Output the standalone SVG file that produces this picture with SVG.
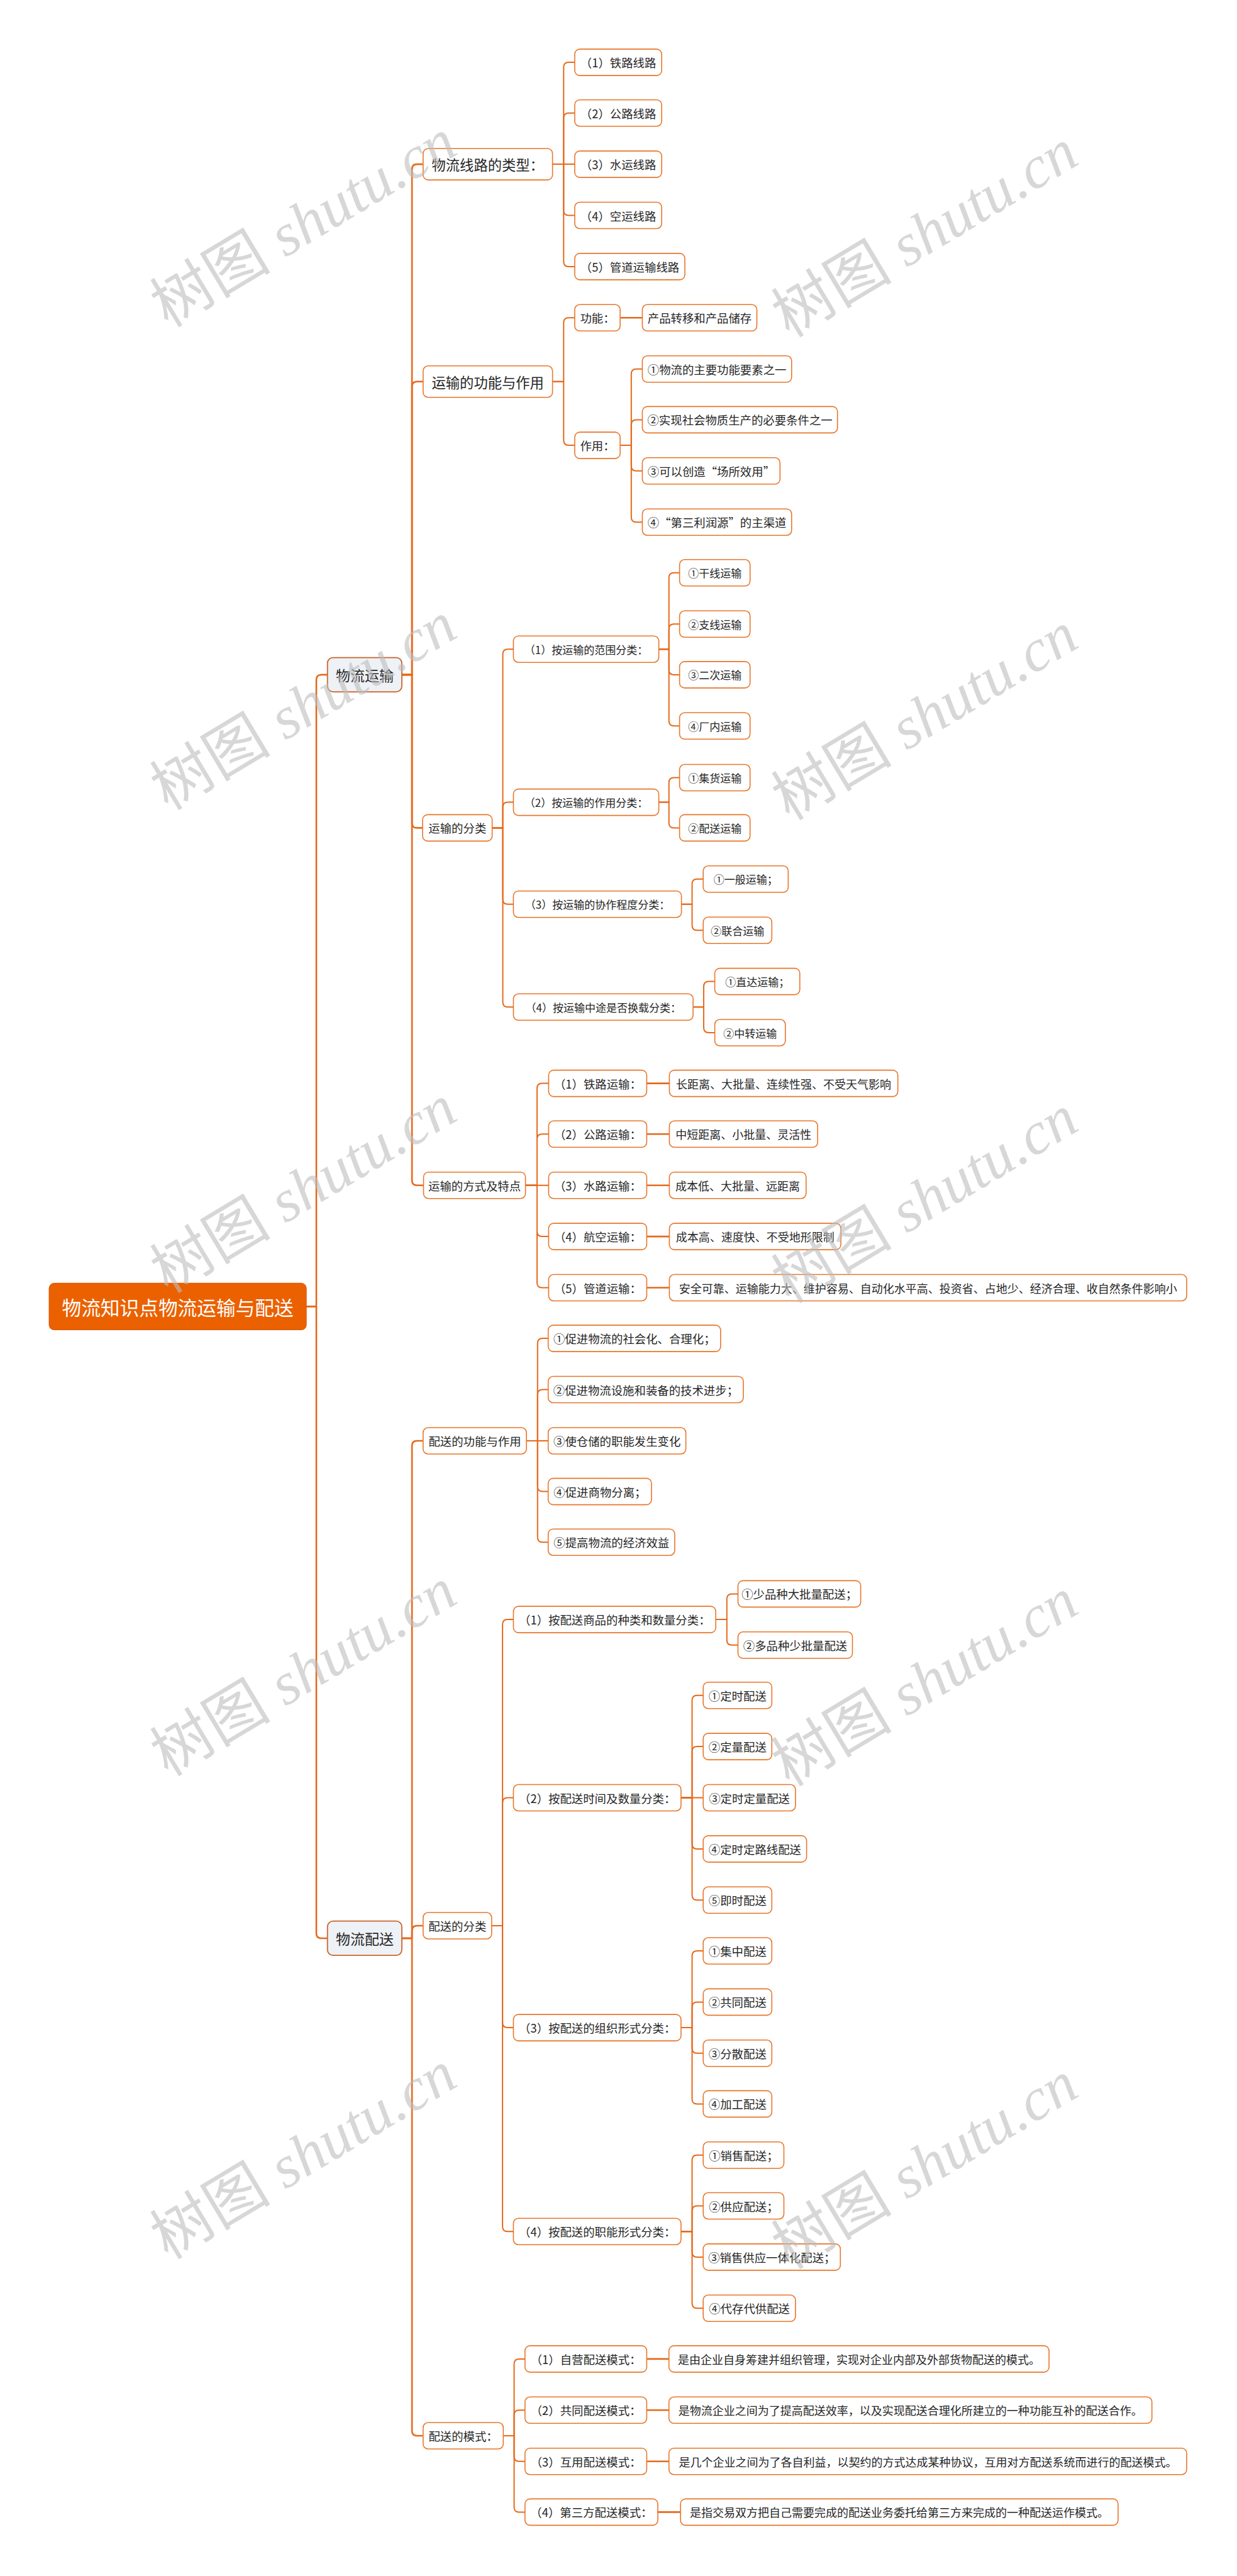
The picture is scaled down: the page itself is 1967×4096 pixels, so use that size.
<svg xmlns="http://www.w3.org/2000/svg" width="1967" height="4096" viewBox="0 0 1967 4096">
<style>
.bg{fill:#ffffff}
.n rect{fill:#ffffff;stroke:#E8762A;stroke-width:1.6}
.l1 rect{fill:#EEF1F6;stroke:#C8652B;stroke-width:1.8}
.rt rect{fill:#EB6100;stroke:#E05A00;stroke-width:1.5}
text.t{font-family:"Noto Sans CJK SC","Liberation Sans",sans-serif;fill:#262626;text-anchor:middle;dominant-baseline:central}
.rt text.t{fill:#ffffff;font-size:30.7px}
.l1 text.t{font-size:23px}
.s22{font-size:22.3px}
.s18{font-size:18.4px}
.s17{font-size:17px}
.s18d{font-size:18px}
#connectors path{fill:none;stroke:#E46A1C;stroke-width:2;stroke-linecap:round;stroke-linejoin:round}
#connectors .w{stroke-width:2.6}
#connectors .d{stroke-width:2.6}
.wm{fill:#bdbdbd;fill-opacity:0.6;font-family:"Liberation Serif","Noto Sans CJK SC",serif;font-size:95px}
</style>
<rect class="bg" x="0" y="0" width="1967" height="4096"/>

<g id="connectors">
<path class="w" d="M486.9 2077.4 H503 V1080.9 Q503 1072.9 511 1072.9 H520.7"/>
<path class="w" d="M486.9 2077.4 H503 V3074 Q503 3082 511 3082 H520.7"/>

<path class="w" d="M639 1072.9 H655.1 V269.1 Q655.1 261.1 663.1 261.1 H672.8"/>
<path class="w" d="M639 1072.9 H655.1 V614.7 Q655.1 606.7 663.1 606.7 H672.8"/>
<path class="w" d="M639 1072.9 H655.1 V1308.4 Q655.1 1316.4 663.1 1316.4 H672"/>
<path class="w" d="M639 1072.9 H655.1 V1876.7 Q655.1 1884.7 663.1 1884.7 H673.5"/>

<path class="w" d="M639 3082 H655.1 V2299 Q655.1 2291 663.1 2291 H672.8"/>
<path class="w" d="M639 3082 H655.1 V3070 Q655.1 3062 663.1 3062 H672.8"/>
<path class="w" d="M639 3082 H655.1 V3865 Q655.1 3873 663.1 3873 H672.8"/>

<path d="M878.6 261.1 H896.3 V107.1 Q896.3 99.1 904.3 99.1 H913.9"/>
<path d="M878.6 261.1 H896.3 V187.7 Q896.3 179.7 904.3 179.7 H913.9"/>
<path d="M878.6 261.1 H913.9"/>
<path d="M878.6 261.1 H896.3 V334.5 Q896.3 342.5 904.3 342.5 H913.9"/>
<path d="M878.6 261.1 H896.3 V415.9 Q896.3 423.9 904.3 423.9 H913.9"/>

<path d="M878.6 606.7 H896.3 V513.3 Q896.3 505.3 904.3 505.3 H913.9"/>
<path d="M878.6 606.7 H896.3 V700.1 Q896.3 708.1 904.3 708.1 H913.9"/>
<path class="d" d="M986.1 505.3 H1021.4"/>
<path d="M986.1 708.1 H1003.8 V594.8 Q1003.8 586.8 1011.8 586.8 H1021.4"/>
<path d="M986.1 708.1 H1003.8 V675.4 Q1003.8 667.4 1011.8 667.4 H1021.4"/>
<path d="M986.1 708.1 H1003.8 V740.8 Q1003.8 748.8 1011.8 748.8 H1021.4"/>
<path d="M986.1 708.1 H1003.8 V822.2 Q1003.8 830.2 1011.8 830.2 H1021.4"/>

<path d="M782.6 1316.4 H799.5 V1040.2 Q799.5 1032.2 807.5 1032.2 H816.4"/>
<path d="M782.6 1316.4 H799.5 V1283.6 Q799.5 1275.6 807.5 1275.6 H816.4"/>
<path d="M782.6 1316.4 H799.5 V1429.7 Q799.5 1437.7 807.5 1437.7 H816.4"/>
<path d="M782.6 1316.4 H799.5 V1593.3 Q799.5 1601.3 807.5 1601.3 H816.4"/>
<path d="M1047.6 1032.2 H1063.7 V918.8 Q1063.7 910.8 1071.7 910.8 H1080.6"/>
<path d="M1047.6 1032.2 H1063.7 V1000.3 Q1063.7 992.3 1071.7 992.3 H1080.6"/>
<path d="M1047.6 1032.2 H1063.7 V1064.9 Q1063.7 1072.9 1071.7 1072.9 H1080.6"/>
<path d="M1047.6 1032.2 H1063.7 V1146.3 Q1063.7 1154.3 1071.7 1154.3 H1080.6"/>
<path d="M1047.6 1275.6 H1063.7 V1244.5 Q1063.7 1236.5 1071.7 1236.5 H1080.6"/>
<path d="M1047.6 1275.6 H1063.7 V1308.4 Q1063.7 1316.4 1071.7 1316.4 H1080.6"/>
<path d="M1083.6 1437.7 H1100.5 V1405.8 Q1100.5 1397.8 1108.5 1397.8 H1118.2"/>
<path d="M1083.6 1437.7 H1100.5 V1471.2 Q1100.5 1479.2 1108.5 1479.2 H1118.2"/>
<path d="M1102.1 1601.3 H1119 V1568.6 Q1119 1560.6 1127 1560.6 H1136.6"/>
<path d="M1102.1 1601.3 H1119 V1634 Q1119 1642 1127 1642 H1136.6"/>

<path d="M835.6 1884.7 H854 V1730.6 Q854 1722.6 862 1722.6 H872.4"/>
<path d="M835.6 1884.7 H854 V1811.3 Q854 1803.3 862 1803.3 H872.4"/>
<path d="M835.6 1884.7 H872.4"/>
<path d="M835.6 1884.7 H854 V1958.1 Q854 1966.1 862 1966.1 H872.4"/>
<path d="M835.6 1884.7 H854 V2039.5 Q854 2047.5 862 2047.5 H872.4"/>
<path class="d" d="M1028.4 1722.6 H1064.4"/>
<path class="d" d="M1028.4 1803.3 H1064.4"/>
<path class="d" d="M1028.4 1884.7 H1064.4"/>
<path class="d" d="M1028.4 1966.1 H1064.4"/>
<path class="d" d="M1028.4 2047.5 H1064.4"/>

<path d="M837.1 2291 H854.8 V2136.1 Q854.8 2128.1 862.8 2128.1 H871.7"/>
<path d="M837.1 2291 H854.8 V2217.5 Q854.8 2209.5 862.8 2209.5 H871.7"/>
<path d="M837.1 2291 H871.7"/>
<path d="M837.1 2291 H854.8 V2363.6 Q854.8 2371.6 862.8 2371.6 H871.7"/>
<path d="M837.1 2291 H854.8 V2444.2 Q854.8 2452.2 862.8 2452.2 H871.7"/>

<path d="M781.8 3062 H799.1 V2583.1 Q799.1 2575.1 807.1 2575.1 H816.4"/>
<path d="M781.8 3062 H799.1 V2866.5 Q799.1 2858.5 807.1 2858.5 H816.4"/>
<path d="M781.8 3062 H799.1 V3216.1 Q799.1 3224.1 807.1 3224.1 H816.4"/>
<path d="M781.8 3062 H799.1 V3540.2 Q799.1 3548.2 807.1 3548.2 H816.4"/>
<path d="M1138.2 2575.1 H1155.8 V2542.4 Q1155.8 2534.4 1163.8 2534.4 H1173.5"/>
<path d="M1138.2 2575.1 H1155.8 V2607.8 Q1155.8 2615.8 1163.8 2615.8 H1173.5"/>
<path d="M1082.9 2858.5 H1100.5 V2703.7 Q1100.5 2695.7 1108.5 2695.7 H1118.2"/>
<path d="M1082.9 2858.5 H1100.5 V2785.1 Q1100.5 2777.1 1108.5 2777.1 H1118.2"/>
<path d="M1082.9 2858.5 H1118.2"/>
<path d="M1082.9 2858.5 H1100.5 V2931.9 Q1100.5 2939.9 1108.5 2939.9 H1118.2"/>
<path d="M1082.9 2858.5 H1100.5 V3013.3 Q1100.5 3021.3 1108.5 3021.3 H1118.2"/>
<path d="M1082.9 3224.1 H1100.5 V3110 Q1100.5 3102 1108.5 3102 H1118.2"/>
<path d="M1082.9 3224.1 H1100.5 V3191.4 Q1100.5 3183.4 1108.5 3183.4 H1118.2"/>
<path d="M1082.9 3224.1 H1100.5 V3256.8 Q1100.5 3264.8 1108.5 3264.8 H1118.2"/>
<path d="M1082.9 3224.1 H1100.5 V3337.4 Q1100.5 3345.4 1108.5 3345.4 H1118.2"/>
<path d="M1082.9 3548.2 H1100.5 V3434.8 Q1100.5 3426.8 1108.5 3426.8 H1118.2"/>
<path d="M1082.9 3548.2 H1100.5 V3515.5 Q1100.5 3507.5 1108.5 3507.5 H1118.2"/>
<path d="M1082.9 3548.2 H1100.5 V3580.9 Q1100.5 3588.9 1108.5 3588.9 H1118.2"/>
<path d="M1082.9 3548.2 H1100.5 V3662.3 Q1100.5 3670.3 1108.5 3670.3 H1118.2"/>

<path d="M800.3 3873 H817.5 V3758.9 Q817.5 3750.9 825.5 3750.9 H834.8"/>
<path d="M800.3 3873 H817.5 V3840.3 Q817.5 3832.3 825.5 3832.3 H834.8"/>
<path d="M800.3 3873 H817.5 V3905.7 Q817.5 3913.7 825.5 3913.7 H834.8"/>
<path d="M800.3 3873 H817.5 V3986.4 Q817.5 3994.4 825.5 3994.4 H834.8"/>
<path class="d" d="M1028.4 3750.9 H1063.7"/>
<path class="d" d="M1028.4 3832.3 H1063.7"/>
<path class="d" d="M1028.4 3913.7 H1063.7"/>
<path class="d" d="M1046 3994.4 H1082.1"/>
</g>

<g id="root" class="rt"><rect x="78.3" y="2040.6" width="408.6" height="73.7" rx="8"/><text class="t" x="282.6" y="2077.4">物流知识点物流运输与配送</text></g>

<g id="n-wlys" class="l1"><rect x="520.7" y="1045.6" width="118.3" height="54.5" rx="9"/><text class="t" x="579.9" y="1072.9">物流运输</text></g>
<g id="n-wlps" class="l1"><rect x="520.7" y="3054.7" width="118.3" height="54.5" rx="9"/><text class="t" x="579.9" y="3082">物流配送</text></g>

<g id="n-a1" class="n"><rect x="672.8" y="236.2" width="205.8" height="49.9" rx="8"/><text class="t s22" x="775.7" y="261.1">物流线路的类型：</text></g>
<g id="n-a1-1" class="n"><rect x="913.9" y="78.1" width="138.3" height="42" rx="8"/><text class="t s18" x="983.1" y="99.1">（1）铁路线路</text></g>
<g id="n-a1-2" class="n"><rect x="913.9" y="158.7" width="138.3" height="42" rx="8"/><text class="t s18" x="983.1" y="179.7">（2）公路线路</text></g>
<g id="n-a1-3" class="n"><rect x="913.9" y="240.1" width="138.3" height="42" rx="8"/><text class="t s18" x="983.1" y="261.1">（3）水运线路</text></g>
<g id="n-a1-4" class="n"><rect x="913.9" y="321.5" width="138.3" height="42" rx="8"/><text class="t s18" x="983.1" y="342.5">（4）空运线路</text></g>
<g id="n-a1-5" class="n"><rect x="913.9" y="402.9" width="175.1" height="42" rx="8"/><text class="t s18" x="1001.5" y="423.9">（5）管道运输线路</text></g>

<g id="n-a2" class="n"><rect x="672.8" y="581.8" width="205.8" height="49.9" rx="8"/><text class="t s22" x="775.7" y="606.7">运输的功能与作用</text></g>
<g id="n-a2-gn" class="n"><rect x="913.9" y="484.3" width="72.2" height="42" rx="8"/><text class="t s18" x="950" y="505.3">功能：</text></g>
<g id="n-a2-gn-1" class="n"><rect x="1021.4" y="484.3" width="182.1" height="42" rx="8"/><text class="t s18" x="1112.5" y="505.3">产品转移和产品储存</text></g>
<g id="n-a2-zy" class="n"><rect x="913.9" y="687.1" width="72.2" height="42" rx="8"/><text class="t s18" x="950" y="708.1">作用：</text></g>
<g id="n-a2-zy-1" class="n"><rect x="1021.4" y="565.8" width="237.4" height="42" rx="8"/><text class="t s18" x="1140.1" y="586.8">①物流的主要功能要素之一</text></g>
<g id="n-a2-zy-2" class="n"><rect x="1021.4" y="646.4" width="310.3" height="42" rx="8"/><text class="t s18" x="1176.6" y="667.4">②实现社会物质生产的必要条件之一</text></g>
<g id="n-a2-zy-3" class="n"><rect x="1021.4" y="727.8" width="218.9" height="42" rx="8"/><text class="t s18" x="1130.9" y="748.8">③可以创造“场所效用”</text></g>
<g id="n-a2-zy-4" class="n"><rect x="1021.4" y="809.2" width="237.4" height="42" rx="8"/><text class="t s18" x="1140.1" y="830.2">④“第三利润源”的主渠道</text></g>

<g id="n-a3" class="n"><rect x="672" y="1295.4" width="110.6" height="42" rx="8"/><text class="t s18" x="727.3" y="1316.4">运输的分类</text></g>
<g id="n-a3-1" class="n"><rect x="816.4" y="1011.2" width="231.2" height="42" rx="8"/><text class="t s17" x="932" y="1032.2">（1）按运输的范围分类：</text></g>
<g id="n-a3-1-1" class="n"><rect x="1080.6" y="889.8" width="112.1" height="42" rx="8"/><text class="t s17" x="1136.7" y="910.8">①干线运输</text></g>
<g id="n-a3-1-2" class="n"><rect x="1080.6" y="971.3" width="112.1" height="42" rx="8"/><text class="t s17" x="1136.7" y="992.3">②支线运输</text></g>
<g id="n-a3-1-3" class="n"><rect x="1080.6" y="1051.9" width="112.1" height="42" rx="8"/><text class="t s17" x="1136.7" y="1072.9">③二次运输</text></g>
<g id="n-a3-1-4" class="n"><rect x="1080.6" y="1133.3" width="112.1" height="42" rx="8"/><text class="t s17" x="1136.7" y="1154.3">④厂内运输</text></g>
<g id="n-a3-2" class="n"><rect x="816.4" y="1254.6" width="231.2" height="42" rx="8"/><text class="t s17" x="932" y="1275.6">（2）按运输的作用分类：</text></g>
<g id="n-a3-2-1" class="n"><rect x="1080.6" y="1215.5" width="112.1" height="42" rx="8"/><text class="t s17" x="1136.7" y="1236.5">①集货运输</text></g>
<g id="n-a3-2-2" class="n"><rect x="1080.6" y="1295.4" width="112.1" height="42" rx="8"/><text class="t s17" x="1136.7" y="1316.4">②配送运输</text></g>
<g id="n-a3-3" class="n"><rect x="816.4" y="1416.7" width="267.2" height="42" rx="8"/><text class="t s17" x="950" y="1437.7">（3）按运输的协作程度分类：</text></g>
<g id="n-a3-3-1" class="n"><rect x="1118.2" y="1376.8" width="135.2" height="42" rx="8"/><text class="t s17" x="1185.8" y="1397.8">①一般运输；</text></g>
<g id="n-a3-3-2" class="n"><rect x="1118.2" y="1458.2" width="109.1" height="42" rx="8"/><text class="t s17" x="1172.8" y="1479.2">②联合运输</text></g>
<g id="n-a3-4" class="n"><rect x="816.4" y="1580.3" width="285.7" height="42" rx="8"/><text class="t s17" x="959.3" y="1601.3">（4）按运输中途是否换载分类：</text></g>
<g id="n-a3-4-1" class="n"><rect x="1136.6" y="1539.6" width="135.2" height="42" rx="8"/><text class="t s17" x="1204.2" y="1560.6">①直达运输；</text></g>
<g id="n-a3-4-2" class="n"><rect x="1136.6" y="1621" width="112.2" height="42" rx="8"/><text class="t s17" x="1192.7" y="1642">②中转运输</text></g>

<g id="n-a4" class="n"><rect x="673.5" y="1863.7" width="162.1" height="42" rx="8"/><text class="t s18" x="754.6" y="1884.7">运输的方式及特点</text></g>
<g id="n-a4-1" class="n"><rect x="872.4" y="1701.6" width="156" height="42" rx="8"/><text class="t s18" x="950.4" y="1722.6">（1）铁路运输：</text></g>
<g id="n-a4-1d" class="n"><rect x="1064.4" y="1701.6" width="363.3" height="42" rx="8"/><text class="t s18d" x="1246.1" y="1722.6">长距离、大批量、连续性强、不受天气影响</text></g>
<g id="n-a4-2" class="n"><rect x="872.4" y="1782.3" width="156" height="42" rx="8"/><text class="t s18" x="950.4" y="1803.3">（2）公路运输：</text></g>
<g id="n-a4-2d" class="n"><rect x="1064.4" y="1782.3" width="235.8" height="42" rx="8"/><text class="t s18d" x="1182.3" y="1803.3">中短距离、小批量、灵活性</text></g>
<g id="n-a4-3" class="n"><rect x="872.4" y="1863.7" width="156" height="42" rx="8"/><text class="t s18" x="950.4" y="1884.7">（3）水路运输：</text></g>
<g id="n-a4-3d" class="n"><rect x="1064.4" y="1863.7" width="217.4" height="42" rx="8"/><text class="t s18d" x="1173.1" y="1884.7">成本低、大批量、远距离</text></g>
<g id="n-a4-4" class="n"><rect x="872.4" y="1945.1" width="156" height="42" rx="8"/><text class="t s18" x="950.4" y="1966.1">（4）航空运输：</text></g>
<g id="n-a4-4d" class="n"><rect x="1064.4" y="1945.1" width="272.7" height="42" rx="8"/><text class="t s18d" x="1200.8" y="1966.1">成本高、速度快、不受地形限制</text></g>
<g id="n-a4-5" class="n"><rect x="872.4" y="2026.5" width="156" height="42" rx="8"/><text class="t s18" x="950.4" y="2047.5">（5）管道运输：</text></g>
<g id="n-a4-5d" class="n"><rect x="1064.4" y="2026.5" width="822.6" height="42" rx="8"/><text class="t s18d" x="1475.7" y="2047.5">安全可靠、运输能力大、维护容易、自动化水平高、投资省、占地少、经济合理、收自然条件影响小</text></g>

<g id="n-b1" class="n"><rect x="672.8" y="2270" width="164.3" height="42" rx="8"/><text class="t s18" x="755" y="2291">配送的功能与作用</text></g>
<g id="n-b1-1" class="n"><rect x="871.7" y="2107.1" width="274.2" height="42" rx="8"/><text class="t s18" x="1008.8" y="2128.1">①促进物流的社会化、合理化；</text></g>
<g id="n-b1-2" class="n"><rect x="871.7" y="2188.5" width="310.3" height="42" rx="8"/><text class="t s18" x="1026.9" y="2209.5">②促进物流设施和装备的技术进步；</text></g>
<g id="n-b1-3" class="n"><rect x="871.7" y="2270" width="218.9" height="42" rx="8"/><text class="t s18" x="981.2" y="2291">③使仓储的职能发生变化</text></g>
<g id="n-b1-4" class="n"><rect x="871.7" y="2350.6" width="164.3" height="42" rx="8"/><text class="t s18" x="953.9" y="2371.6">④促进商物分离；</text></g>
<g id="n-b1-5" class="n"><rect x="871.7" y="2431.2" width="201.2" height="42" rx="8"/><text class="t s18" x="972.3" y="2452.2">⑤提高物流的经济效益</text></g>

<g id="n-b2" class="n"><rect x="672.8" y="3041" width="109" height="42" rx="8"/><text class="t s18" x="727.3" y="3062">配送的分类</text></g>
<g id="n-b2-1" class="n"><rect x="816.4" y="2554.1" width="321.8" height="42" rx="8"/><text class="t s18" x="977.3" y="2575.1">（1）按配送商品的种类和数量分类：</text></g>
<g id="n-b2-1-1" class="n"><rect x="1173.5" y="2513.4" width="195.1" height="42" rx="8"/><text class="t s18" x="1271.1" y="2534.4">①少品种大批量配送；</text></g>
<g id="n-b2-1-2" class="n"><rect x="1173.5" y="2594.8" width="182" height="42" rx="8"/><text class="t s18" x="1264.5" y="2615.8">②多品种少批量配送</text></g>
<g id="n-b2-2" class="n"><rect x="816.4" y="2837.5" width="266.5" height="42" rx="8"/><text class="t s18" x="949.7" y="2858.5">（2）按配送时间及数量分类：</text></g>
<g id="n-b2-2-1" class="n"><rect x="1118.2" y="2674.7" width="109.1" height="42" rx="8"/><text class="t s18" x="1172.8" y="2695.7">①定时配送</text></g>
<g id="n-b2-2-2" class="n"><rect x="1118.2" y="2756.1" width="109.1" height="42" rx="8"/><text class="t s18" x="1172.8" y="2777.1">②定量配送</text></g>
<g id="n-b2-2-3" class="n"><rect x="1118.2" y="2837.5" width="146.7" height="42" rx="8"/><text class="t s18" x="1191.6" y="2858.5">③定时定量配送</text></g>
<g id="n-b2-2-4" class="n"><rect x="1118.2" y="2918.9" width="164.4" height="42" rx="8"/><text class="t s18" x="1200.4" y="2939.9">④定时定路线配送</text></g>
<g id="n-b2-2-5" class="n"><rect x="1118.2" y="3000.3" width="109.1" height="42" rx="8"/><text class="t s18" x="1172.8" y="3021.3">⑤即时配送</text></g>
<g id="n-b2-3" class="n"><rect x="816.4" y="3203.1" width="266.5" height="42" rx="8"/><text class="t s18" x="949.7" y="3224.1">（3）按配送的组织形式分类：</text></g>
<g id="n-b2-3-1" class="n"><rect x="1118.2" y="3081" width="109.1" height="42" rx="8"/><text class="t s18" x="1172.8" y="3102">①集中配送</text></g>
<g id="n-b2-3-2" class="n"><rect x="1118.2" y="3162.4" width="109.1" height="42" rx="8"/><text class="t s18" x="1172.8" y="3183.4">②共同配送</text></g>
<g id="n-b2-3-3" class="n"><rect x="1118.2" y="3243.8" width="109.1" height="42" rx="8"/><text class="t s18" x="1172.8" y="3264.8">③分散配送</text></g>
<g id="n-b2-3-4" class="n"><rect x="1118.2" y="3324.4" width="109.1" height="42" rx="8"/><text class="t s18" x="1172.8" y="3345.4">④加工配送</text></g>
<g id="n-b2-4" class="n"><rect x="816.4" y="3527.2" width="266.5" height="42" rx="8"/><text class="t s18" x="949.7" y="3548.2">（4）按配送的职能形式分类：</text></g>
<g id="n-b2-4-1" class="n"><rect x="1118.2" y="3405.8" width="128.3" height="42" rx="8"/><text class="t s18" x="1182.4" y="3426.8">①销售配送；</text></g>
<g id="n-b2-4-2" class="n"><rect x="1118.2" y="3486.5" width="128.3" height="42" rx="8"/><text class="t s18" x="1182.4" y="3507.5">②供应配送；</text></g>
<g id="n-b2-4-3" class="n"><rect x="1118.2" y="3567.9" width="218.1" height="42" rx="8"/><text class="t s18" x="1227.3" y="3588.9">③销售供应一体化配送；</text></g>
<g id="n-b2-4-4" class="n"><rect x="1118.2" y="3649.3" width="146.7" height="42" rx="8"/><text class="t s18" x="1191.6" y="3670.3">④代存代供配送</text></g>

<g id="n-b3" class="n"><rect x="672.8" y="3852" width="127.5" height="42" rx="8"/><text class="t s18" x="736.6" y="3873">配送的模式：</text></g>
<g id="n-b3-1" class="n"><rect x="834.8" y="3729.9" width="193.6" height="42" rx="8"/><text class="t s18" x="931.6" y="3750.9">（1）自营配送模式：</text></g>
<g id="n-b3-1d" class="n"><rect x="1063.7" y="3729.9" width="604.4" height="42" rx="8"/><text class="t s18d" x="1365.9" y="3750.9">是由企业自身筹建并组织管理，实现对企业内部及外部货物配送的模式。</text></g>
<g id="n-b3-2" class="n"><rect x="834.8" y="3811.3" width="193.6" height="42" rx="8"/><text class="t s18" x="931.6" y="3832.3">（2）共同配送模式：</text></g>
<g id="n-b3-2d" class="n"><rect x="1063.7" y="3811.3" width="768" height="42" rx="8"/><text class="t s18d" x="1447.7" y="3832.3">是物流企业之间为了提高配送效率，以及实现配送合理化所建立的一种功能互补的配送合作。</text></g>
<g id="n-b3-3" class="n"><rect x="834.8" y="3892.7" width="193.6" height="42" rx="8"/><text class="t s18" x="931.6" y="3913.7">（3）互用配送模式：</text></g>
<g id="n-b3-3d" class="n"><rect x="1063.7" y="3892.7" width="823.3" height="42" rx="8"/><text class="t s18d" x="1475.4" y="3913.7">是几个企业之间为了各自利益，以契约的方式达成某种协议，互用对方配送系统而进行的配送模式。</text></g>
<g id="n-b3-4" class="n"><rect x="834.8" y="3973.4" width="211.2" height="42" rx="8"/><text class="t s18" x="940.4" y="3994.4">（4）第三方配送模式：</text></g>
<g id="n-b3-4d" class="n"><rect x="1082.1" y="3973.4" width="695.8" height="42" rx="8"/><text class="t s18d" x="1430" y="3994.4">是指交易双方把自己需要完成的配送业务委托给第三方来完成的一种配送运作模式。</text></g>

<g id="watermarks" class="wm">
<text transform="translate(267 522) rotate(-31)" textLength="542" lengthAdjust="spacingAndGlyphs">树图 <tspan font-style="italic">shutu.cn</tspan></text>
<text transform="translate(267 1290) rotate(-31)" textLength="542" lengthAdjust="spacingAndGlyphs">树图 <tspan font-style="italic">shutu.cn</tspan></text>
<text transform="translate(267 2058) rotate(-31)" textLength="542" lengthAdjust="spacingAndGlyphs">树图 <tspan font-style="italic">shutu.cn</tspan></text>
<text transform="translate(267 2826) rotate(-31)" textLength="542" lengthAdjust="spacingAndGlyphs">树图 <tspan font-style="italic">shutu.cn</tspan></text>
<text transform="translate(267 3594) rotate(-31)" textLength="542" lengthAdjust="spacingAndGlyphs">树图 <tspan font-style="italic">shutu.cn</tspan></text>
<text transform="translate(1255 538) rotate(-31)" textLength="542" lengthAdjust="spacingAndGlyphs">树图 <tspan font-style="italic">shutu.cn</tspan></text>
<text transform="translate(1255 1306) rotate(-31)" textLength="542" lengthAdjust="spacingAndGlyphs">树图 <tspan font-style="italic">shutu.cn</tspan></text>
<text transform="translate(1255 2074) rotate(-31)" textLength="542" lengthAdjust="spacingAndGlyphs">树图 <tspan font-style="italic">shutu.cn</tspan></text>
<text transform="translate(1255 2842) rotate(-31)" textLength="542" lengthAdjust="spacingAndGlyphs">树图 <tspan font-style="italic">shutu.cn</tspan></text>
<text transform="translate(1255 3610) rotate(-31)" textLength="542" lengthAdjust="spacingAndGlyphs">树图 <tspan font-style="italic">shutu.cn</tspan></text>
</g>
</svg>
